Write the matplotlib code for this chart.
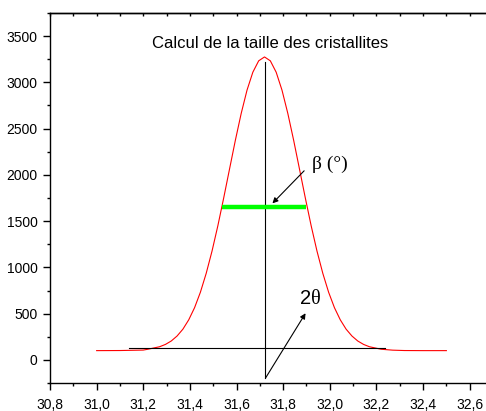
"""FWHM sketch of one diffraction peak: beta (half-height width) and 2-theta."""

import matplotlib
matplotlib.use("Agg")
import matplotlib.pyplot as plt          # noqa: E402
from matplotlib.ticker import MultipleLocator, FuncFormatter   # noqa: E402


# peak profile (2theta in degrees, intensity in counts)
two_theta = [31.00, 31.10, 31.20, 31.22, 31.27, 31.295, 31.32, 31.345, 31.37,
             31.395, 31.42, 31.445, 31.47, 31.495, 31.52, 31.545, 31.57,
             31.595, 31.62, 31.645, 31.67, 31.695, 31.72, 31.745, 31.77,
             31.795, 31.82, 31.845, 31.87, 31.895, 31.92, 31.945, 31.97,
             31.995, 32.02, 32.045, 32.07, 32.095, 32.12, 32.145, 32.17,
             32.22, 32.27, 32.32, 32.40, 32.50]
intensity = [100, 101, 106, 115, 142, 167, 204, 258, 332, 433, 564, 731, 936,
             1177, 1451, 1751, 2063, 2374, 2664, 2916, 3110, 3233, 3275, 3233,
             3110, 2916, 2664, 2374, 2063, 1751, 1451, 1177, 936, 731, 564,
             433, 332, 258, 204, 167, 142, 115, 105, 101, 100, 100]

# construction lines
peak_pos = 31.72
peak_top = 3220
base_level = 126
base_from, base_to = 31.14, 32.235
half_level = 1650
half_from, half_to = 31.537, 31.897
drop_bottom = -198

beta_tail, beta_head = (31.890, 2044), (31.754, 1692)
theta_tail, theta_head = (31.724, -198), (31.896, 504)

SANS = ["Liberation Sans", "DejaVu Sans"]
SERIF = ["Liberation Serif", "DejaVu Serif"]

plt.rcParams["font.family"] = SANS

fig = plt.figure(figsize=(4.86, 4.11), dpi=100)
ax = fig.add_axes([50 / 486, 28 / 411, 443 / 486, 370 / 411])

ax.plot(two_theta, intensity, color="red", lw=0.8)
ax.plot([base_from, base_to], [base_level, base_level], color="black", lw=0.8)
ax.plot([peak_pos, peak_pos], [drop_bottom, peak_top], color="black", lw=0.8)
ax.plot([half_from, half_to], [half_level, half_level], color="#00ff00",
        lw=3.2, solid_capstyle="butt")

arrow = dict(arrowstyle="-|>", color="black", lw=0.8, mutation_scale=8,
             shrinkA=0, shrinkB=0)
ax.annotate("", xy=beta_head, xytext=beta_tail, arrowprops=arrow)
ax.annotate("", xy=theta_head, xytext=theta_tail, arrowprops=arrow)

ax.text(32.0, 2117, "\u03b2 (\u00b0)", family=SERIF, fontsize=14,
        ha="center", va="center")
ax.text(31.919, 660, "2", family=SANS, fontsize=14.5, ha="right",
        va="center")
ax.text(31.921, 652, "\u03b8", family=SERIF, fontsize=14.5, ha="left",
        va="center")
ax.text(31.743, 3420, "Calcul de la taille des cristallites", fontsize=12,
        ha="center", va="center")

ax.set_xlim(30.8, 32.7)
ax.set_ylim(-250, 3750)

ax.xaxis.set_major_locator(MultipleLocator(0.2))
ax.xaxis.set_minor_locator(MultipleLocator(0.1))
ax.yaxis.set_major_locator(MultipleLocator(500))
ax.yaxis.set_minor_locator(MultipleLocator(250))
ax.xaxis.set_major_formatter(FuncFormatter(
    lambda v, _: ("%.1f" % v).replace(".", ",")))
ax.yaxis.set_major_formatter(FuncFormatter(lambda v, _: "%d" % v))

ax.spines["right"].set_visible(False)
for s in ("left", "bottom", "top"):
    ax.spines[s].set_linewidth(1.0)

ax.tick_params(axis="both", which="major", direction="out", length=5,
               width=1.0, labelsize=10, colors="black", pad=4)
ax.tick_params(axis="x", which="major", pad=6)
ax.tick_params(axis="both", which="minor", direction="out", length=2.5,
               width=1.0)

# top axis: inward ticks every 0.1, no labels
top = ax.secondary_xaxis("top")
top.xaxis.set_major_locator(MultipleLocator(0.1))
top.tick_params(direction="in", length=2.5, width=1.0, labeltop=False)
top.spines["top"].set_linewidth(1.0)

fig.savefig("out.png", dpi=100)
